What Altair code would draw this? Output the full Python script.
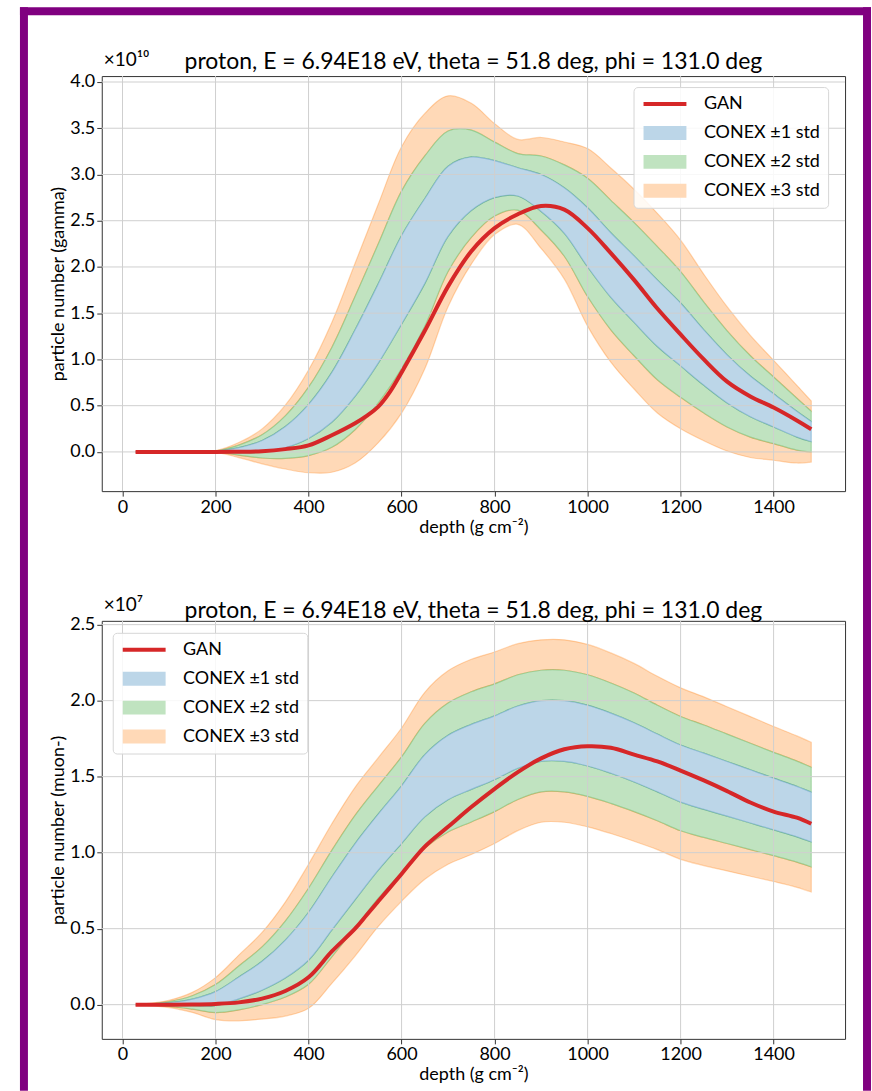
import altair as alt
import pandas as pd

# ---------------- data (values in units of the axis multiplier) ----------------
DEPTH = [28, 100, 150, 200, 250, 300, 350, 400, 450, 500, 550, 600, 650, 700, 750,
         800, 850, 900, 950, 1000, 1050, 1100, 1150, 1200, 1250, 1300, 1350, 1400, 1450, 1481]

GAMMA_MEAN = [0.0, 0.0, 0.001, 0.005, 0.02, 0.06, 0.16, 0.33, 0.59, 0.96, 1.39, 1.86, 2.28, 2.71, 2.90,
              2.95, 2.92, 2.80, 2.61, 2.32, 2.02, 1.76, 1.50, 1.27, 1.02, 0.79, 0.60, 0.45, 0.30, 0.22]
GAMMA_STD = [0.0, 0.0, 0.001, 0.003, 0.027, 0.063, 0.115, 0.185, 0.27, 0.36, 0.43, 0.48, 0.46, 0.38, 0.29,
             0.20, 0.153, 0.20, 0.247, 0.32, 0.35, 0.36, 0.36, 0.34, 0.30, 0.26, 0.22, 0.18, 0.14, 0.11]

GAN_DEPTH = [28, 100, 150, 200, 250, 300, 350, 400, 450, 500, 525, 550, 575, 600, 650, 700, 750,
             800, 850, 900, 950, 1000, 1050, 1100, 1150, 1200, 1250, 1300, 1350, 1400, 1450, 1481]
GAMMA_GAN = [0.0, 0.0, 0.0, 0.0, 0.002, 0.008, 0.03, 0.07, 0.18, 0.31, 0.39, 0.49, 0.65, 0.86, 1.31, 1.79, 2.17,
             2.42, 2.57, 2.66, 2.62, 2.42, 2.15, 1.86, 1.55, 1.27, 1.00, 0.76, 0.60, 0.48, 0.34, 0.245]

MUON_MEAN = [0.0, 0.005, 0.015, 0.04, 0.11, 0.19, 0.30, 0.45, 0.665, 0.875, 1.07, 1.25, 1.44, 1.56, 1.63,
             1.69, 1.76, 1.80, 1.80, 1.77, 1.72, 1.66, 1.59, 1.52, 1.47, 1.42, 1.37, 1.32, 1.27, 1.234]
MUON_STD = [0.0, 0.008, 0.022, 0.046, 0.072, 0.095, 0.125, 0.158, 0.175, 0.185, 0.185, 0.19, 0.205, 0.212, 0.214,
            0.21, 0.205, 0.20, 0.20, 0.20, 0.198, 0.195, 0.19, 0.188, 0.185, 0.18, 0.175, 0.17, 0.166, 0.164]
MUON_GAN = [0.0, 0.0, 0.001, 0.005, 0.015, 0.04, 0.09, 0.18, 0.35, 0.50, 0.59, 0.68, 0.77, 0.86, 1.04, 1.17, 1.30,
            1.42, 1.53, 1.62, 1.68, 1.70, 1.69, 1.645, 1.60, 1.54, 1.475, 1.405, 1.33, 1.27, 1.23, 1.19]

X_TICKS = [0, 200, 400, 600, 800, 1000, 1200, 1400]
GAMMA_Y_TICKS = [0.0, 0.5, 1.0, 1.5, 2.0, 2.5, 3.0, 3.5, 4.0]
MUON_Y_TICKS = [0.0, 0.5, 1.0, 1.5, 2.0, 2.5]

LEGEND_LABELS = ["GAN", "CONEX ±1 std", "CONEX ±2 std", "CONEX ±3 std"]
TITLE = "proton, E = 6.94E18 eV, theta = 51.8 deg, phi = 131.0 deg"
X_TITLE = "depth (g cm⁻²)"
GAMMA_Y_TITLE = "particle number (gamma)"
MUON_Y_TITLE = "particle number (muon-)"
GAMMA_MULT = "×10¹⁰"
MUON_MULT = "×10⁷"

# ---------------- style ----------------
FONT = "Lato"
RED = "#d62728"
BLUE = "#bcd6e8"
GREEN = "#c0e3c0"
ORANGE = "#ffd9b7"
PURPLE = "#800080"
W = 745
X_DOMAIN = [-44.65, 1553.65]
INTERP = "catmull-rom"

# legend handles: 43 px wide; symbol size 196 -> unit = 7 px
PATH_LINE = "M-3.07,-0.3H3.07V0.3H-3.07Z"
PATH_BOX = "M-3.07,-1H3.07V1H-3.07Z"


def panel(mean, std, gan, yticks, ydom, height, ytitle, mult, legend_x, legend_y,
          title_offset, with_frame):
    df = pd.DataFrame({"depth": DEPTH, "mean": mean, "std": std})
    for k in (1, 2, 3):
        df[f"lo{k}"] = df["mean"] - k * df["std"]
        df[f"hi{k}"] = df["mean"] + k * df["std"]

    xs = alt.Scale(domain=X_DOMAIN, nice=False, zero=False)
    ys = alt.Scale(domain=ydom, nice=False, zero=False)
    xax = alt.Axis(values=X_TICKS, format="d", title=X_TITLE)
    yax = alt.Axis(values=yticks, format=".1f", title=ytitle)

    base = alt.Chart(df)

    def strip(lo, hi, fill, edge):
        return base.mark_area(interpolate=INTERP, fill=fill, fillOpacity=1,
                              stroke=edge, strokeOpacity=0.3, strokeWidth=1.2).encode(
            x=alt.X("depth:Q", scale=xs, axis=xax),
            y=alt.Y(f"{lo}:Q", scale=ys, axis=yax),
            y2=f"{hi}:Q",
        )

    layers = [
        strip("hi2", "hi3", ORANGE, "#ff7f0e"),
        strip("lo3", "lo2", ORANGE, "#ff7f0e"),
        strip("hi1", "hi2", GREEN, "#2ca02c"),
        strip("lo2", "lo1", GREEN, "#2ca02c"),
        strip("lo1", "hi1", BLUE, "#1f77b4"),
    ]

    xgrid = alt.Chart(pd.DataFrame({"t": X_TICKS})).mark_rule(
        color="#cfcfcf", strokeWidth=1).encode(x=alt.X("t:Q", scale=xs))
    ygrid = alt.Chart(pd.DataFrame({"t": yticks})).mark_rule(
        color="#cfcfcf", strokeWidth=1).encode(y=alt.Y("t:Q", scale=ys))
    layers += [xgrid, ygrid]

    line = alt.Chart(pd.DataFrame({"depth": GAN_DEPTH, "gan": gan})).mark_line(
        color=RED, strokeWidth=4, interpolate=INTERP).encode(
        x=alt.X("depth:Q", scale=xs), y=alt.Y("gan:Q", scale=ys))
    layers.append(line)

    leg_df = pd.DataFrame({"entry": LEGEND_LABELS, "depth": [None] * 4, "v": [None] * 4})
    legend = alt.Chart(leg_df).mark_point(filled=True, opacity=1).encode(
        x=alt.X("depth:Q", scale=xs),
        y=alt.Y("v:Q", scale=ys),
        color=alt.Color("entry:N", title=None,
                        scale=alt.Scale(domain=LEGEND_LABELS, range=[RED, BLUE, GREEN, ORANGE]),
                        legend=alt.Legend(orient="none", legendX=legend_x, legendY=legend_y,
                                          padding=8,
                                          fillColor="rgba(255,255,255,0.85)", strokeColor="#d6d6d6",
                                          cornerRadius=4, labelFont=FONT, labelFontSize=18,
                                          labelColor="black", labelOffset=30, symbolOffset=14.5,
                                          rowPadding=11, symbolSize=196, symbolOpacity=1,
                                          symbolStrokeWidth=0, labelLimit=400)),
        shape=alt.Shape("entry:N", title=None,
                        scale=alt.Scale(domain=LEGEND_LABELS,
                                        range=[PATH_LINE, PATH_BOX, PATH_BOX, PATH_BOX])),
    )
    layers.append(legend)

    mult_txt = alt.Chart(pd.DataFrame({"t": [mult]})).mark_text(
        align="left", baseline="top", font=FONT, fontSize=19, color="black").encode(
        x=alt.value(2), y=alt.value(-25), text="t:N")
    layers.append(mult_txt)

    if with_frame:
        one = pd.DataFrame({"k": [0]})
        fr = dict(color=PURPLE)
        layers.append(alt.Chart(one).mark_rect(**fr).encode(
            x=alt.value(-82), x2=alt.value(-74), y=alt.value(-69), y2=alt.value(1017)))
        layers.append(alt.Chart(one).mark_rect(**fr).encode(
            x=alt.value(-82), x2=alt.value(771), y=alt.value(-69), y2=alt.value(-61)))
        layers.append(alt.Chart(one).mark_rect(**fr).encode(
            x=alt.value(763), x2=alt.value(771), y=alt.value(-69), y2=alt.value(1017)))

    return alt.layer(*layers).properties(
        width=W, height=height,
        title=alt.TitleParams(TITLE, font=FONT, fontSize=23, fontWeight="normal", color="black",
                              anchor="middle", frame="group", baseline="alphabetic",
                              offset=title_offset),
    )


top = panel(GAMMA_MEAN, GAMMA_STD, GAMMA_GAN, GAMMA_Y_TICKS, [-0.424, 4.064], 416,
            GAMMA_Y_TITLE, GAMMA_MULT, 533, 11, -85, True)
bottom = panel(MUON_MEAN, MUON_STD, MUON_GAN, MUON_Y_TICKS, [-0.225, 2.525], 419,
               MUON_Y_TITLE, MUON_MULT, 11, 12, -45, False)

chart = alt.vconcat(top, bottom, spacing=130, bounds="flush").resolve_legend(
    color="independent", shape="independent"
).properties(
    padding={"left": 19, "top": 5, "right": 0, "bottom": 0}
).configure(font=FONT).configure_view(
    stroke="#333333", strokeWidth=1
).configure_axis(
    grid=False, domain=False, ticks=True, tickColor="#333333", tickSize=5, tickWidth=1,
    labelFont=FONT, labelFontSize=18, labelColor="black", labelPadding=2,
    titleFont=FONT, titleFontSize=18, titleFontWeight="normal", titleColor="black",
    titlePadding=2
)

chart.save("out.html", embed_options={"renderer": "svg", "actions": False})
